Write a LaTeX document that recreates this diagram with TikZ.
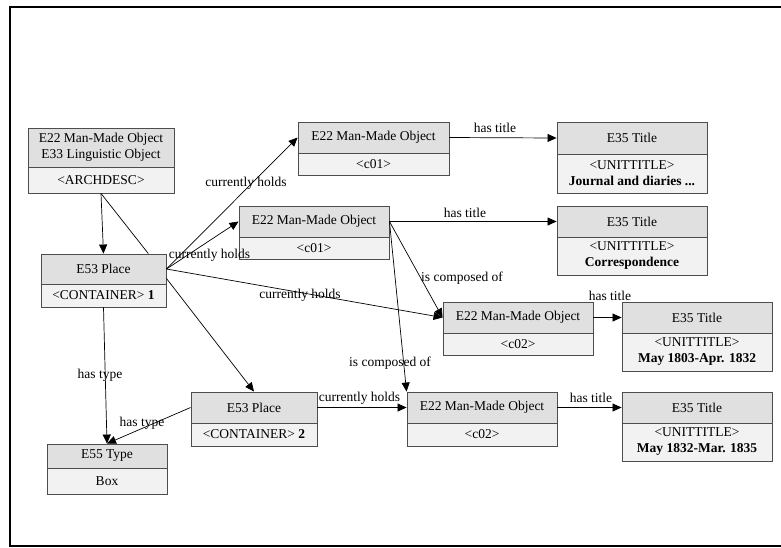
\documentclass[tikz,border=0pt]{standalone}
\usepackage{fontspec}
\setmainfont{Liberation Serif}
\usetikzlibrary{arrows.meta,calc}
\definecolor{boxline}{HTML}{4D4D4D}
\definecolor{hdrfill}{HTML}{E0E0E0}
\definecolor{bdyfill}{HTML}{F2F2F2}
\begin{document}
\begin{tikzpicture}[x=1pt,y=-1pt,
  txt/.style={font=\fontsize{13.5}{16}\selectfont},
  hdr/.style={txt, draw=boxline, fill=hdrfill, line width=0.9pt, inner sep=0pt, align=center},
  bdy/.style={txt, draw=boxline, fill=bdyfill, line width=0.9pt, inner sep=0pt, align=center},
  rel/.style={draw=black, line width=0.7pt, -{Triangle[length=9pt,width=8pt]}},
  plain/.style={draw=black, line width=0.7pt},
  lbl/.style={txt, inner sep=0pt}]
\useasboundingbox (0,0) rectangle (781,547);
\draw[line width=2pt] (781,7) -- (10,7) -- (10,546) -- (781,546);

% A
\node[hdr, minimum width=146pt, minimum height=39pt] (Ah) at (101,147.5) {E22 Man-Made Object\\E33 Linguistic Object};
\node[bdy, minimum width=146pt, minimum height=26pt] (Ab) at (101,180) {<ARCHDESC>};
% P1
\node[hdr, minimum width=125pt, minimum height=30pt] (P1h) at (103.5,269) {E53 Place};
\node[bdy, minimum width=125pt, minimum height=23pt] (P1b) at (103.5,295.5) {<CONTAINER> \textbf{1}};
% M1
\node[hdr, minimum width=151pt, minimum height=31pt] (M1h) at (373.5,137.5) {E22 Man-Made Object};
\node[bdy, minimum width=151pt, minimum height=22pt] (M1b) at (373.5,164) {<c01>};
% M2
\node[hdr, minimum width=150pt, minimum height=31pt] (M2h) at (314,221.5) {E22 Man-Made Object};
\node[bdy, minimum width=150pt, minimum height=22pt] (M2b) at (314,248) {<c01>};
% T1
\node[hdr, minimum width=150pt, minimum height=32pt] (T1h) at (632,138) {E35 Title};
\node[bdy, minimum width=150pt, minimum height=39pt] (T1b) at (632,173.5) {<UNITTITLE>\\\textbf{Journal and diaries ...}};
% T2
\node[hdr, minimum width=150pt, minimum height=31pt] (T2h) at (632,221.5) {E35 Title};
\node[bdy, minimum width=150pt, minimum height=38pt] (T2b) at (632,256) {<UNITTITLE>\\\textbf{Correspondence}};
% M3
\node[hdr, minimum width=150pt, minimum height=31pt] (M3h) at (518,317.5) {E22 Man-Made Object};
\node[bdy, minimum width=150pt, minimum height=22pt] (M3b) at (518,344) {<c02>};
% T3
\node[hdr, minimum width=150pt, minimum height=31pt] (T3h) at (697,317.5) {E35 Title};
\node[bdy, minimum width=150pt, minimum height=38pt] (T3b) at (697,352) {<UNITTITLE>\\\textbf{May 1803-Apr. 1832}};
% M4
\node[hdr, minimum width=150pt, minimum height=31pt] (M4h) at (482,407.5) {E22 Man-Made Object};
\node[bdy, minimum width=150pt, minimum height=23pt] (M4b) at (482,434.5) {<c02>};
% T4
\node[hdr, minimum width=150pt, minimum height=31pt] (T4h) at (697,407.5) {E35 Title};
\node[bdy, minimum width=150pt, minimum height=38pt] (T4b) at (697,442) {<UNITTITLE>\\\textbf{May 1832-Mar. 1835}};
% P2
\node[hdr, minimum width=126pt, minimum height=31pt] (P2h) at (254,407.5) {E53 Place};
\node[bdy, minimum width=126pt, minimum height=23pt] (P2b) at (254,434.5) {<CONTAINER> \textbf{2}};
% B
\node[hdr, minimum width=120pt, minimum height=24pt] (Bh) at (107,456) {E55 Type};
\node[bdy, minimum width=120pt, minimum height=26pt] (Bb) at (107,481) {Box};

% connectors
\coordinate (c1) at ($(P1h.north west)!0.856!(P1h.north east)$);
\coordinate (p1s) at ($(P1h.south east)+(0,-6)$);
\draw[rel] (Ab.south) -- (P1h.north);
\draw[plain] (Ab.south) -- (c1);
\draw[rel] (P1h.east) -- (M1h.west);
\draw[rel] (P1h.east) -- (M2h.west);
\draw[rel] (P1h.east) -- (M3h.west);
\draw[rel] (p1s) -- (P2h.north);
\draw[rel] (P1b.south) -- (Bh.north);
\draw[rel] (P2h.west) -- (Bh.north);
\draw[rel] (P2h.east) -- (M4h.west);
\draw[rel] (M1h.east) -- (T1h.west);
\draw[rel] (M2h.east) -- (T2h.west);
\draw[rel] (M2h.east) -- (M3h.west);
\draw[rel] (M2h.east) -- (M4h.north west);
\draw[rel] (M3h.east) -- (T3h.west);
\draw[rel] (M4h.east) -- (T4h.west);

% labels
\node[lbl] (l1) at (246,183) {currently holds};
\node[lbl] (l2) at (209.5,255) {currently holds};
\node[lbl] (l3) at (300,295) {currently holds};
\node[lbl] (l4) at (359.5,398) {currently holds};
\node[lbl] (l5) at (495,128) {has title};
\node[lbl] (l6) at (465,213) {has title};
\node[lbl] (l7) at (610,296) {has title};
\node[lbl] (l8) at (591,398) {has title};
\node[lbl] (l9) at (462,278) {is composed of};
\node[lbl] (l10) at (390,363) {is composed of};
\node[lbl] (l11) at (100,375) {has type};
\node[lbl] (l12) at (142,423) {has type};
\end{tikzpicture}
\end{document}
